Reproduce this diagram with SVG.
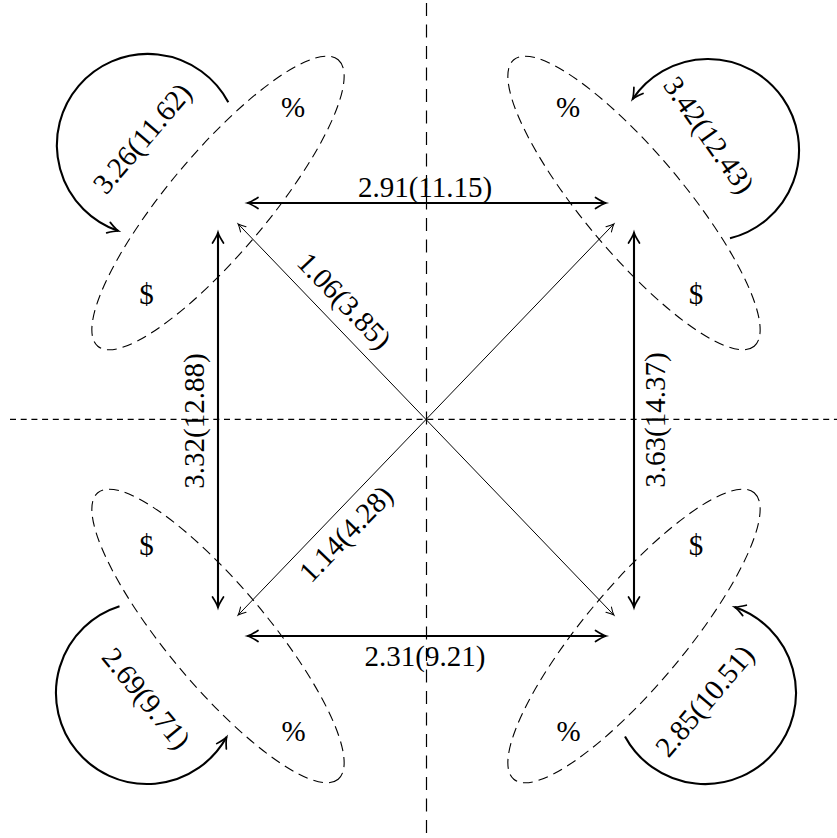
<svg xmlns="http://www.w3.org/2000/svg" width="837" height="838" viewBox="0 0 837 838">
<defs>
<style>
.lbl{font-family:"Liberation Serif","DejaVu Serif",serif;font-size:29px;fill:#000}
.mid{text-anchor:middle}
.ell{fill:none;stroke:#000;stroke-width:1.1;stroke-dasharray:10 6}
.thick{fill:none;stroke:#000;stroke-width:2.1}
.thin{fill:none;stroke:#000;stroke-width:1}
.axis{fill:none;stroke:#000;stroke-width:1.2}
</style>
<marker id="to" markerUnits="userSpaceOnUse" viewBox="-12 -8 14 16" markerWidth="14" markerHeight="16" refX="0" refY="0" orient="auto-start-reverse" overflow="visible">
<path d="M -10.5,-5.5 Q -3.5,-1 0,0 Q -3.5,1 -10.5,5.5" fill="none" stroke="#000" stroke-width="1.7" stroke-linecap="round"/>
</marker>
<marker id="tos" markerUnits="userSpaceOnUse" viewBox="-9 -5 10 10" markerWidth="10" markerHeight="10" refX="0" refY="0" orient="auto-start-reverse" overflow="visible">
<path d="M -7.5,-3.8 Q -2.5,-0.7 0,0 Q -2.5,0.7 -7.5,3.8" fill="none" stroke="#000" stroke-width="1" stroke-linecap="round"/>
</marker>
</defs>
<rect width="837" height="838" fill="#fff"/>
<g id="axes">
<path class="axis" d="M 426.5,3 V 838" stroke-dasharray="13 8.5"/>
<path class="axis" d="M 10,419.3 H 837" stroke-dasharray="6 4.7"/>
</g>
<g id="node-tl">
<ellipse class="ell" cx="0" cy="0" rx="187" ry="50" transform="translate(218,203) rotate(-50)"/>
<text class="lbl mid" x="293" y="117">%</text>
<text class="lbl mid" x="146.5" y="304">$</text>
</g>
<g id="node-tr">
<ellipse class="ell" cx="0" cy="0" rx="187" ry="50" transform="translate(634,203) rotate(50)"/>
<text class="lbl mid" x="568" y="117">%</text>
<text class="lbl mid" x="696" y="304">$</text>
</g>
<g id="node-bl">
<ellipse class="ell" cx="0" cy="0" rx="187" ry="50" transform="translate(218,636) rotate(50)"/>
<text class="lbl mid" x="146.5" y="555">$</text>
<text class="lbl mid" x="293.5" y="741">%</text>
</g>
<g id="node-br">
<ellipse class="ell" cx="0" cy="0" rx="187" ry="50" transform="translate(634,636) rotate(-50)"/>
<text class="lbl mid" x="696" y="555">$</text>
<text class="lbl mid" x="568.5" y="741">%</text>
</g>
<g id="connectors">
<path class="thick" d="M 247.5,203 H 606" marker-start="url(#to)" marker-end="url(#to)"/>
<path class="thick" d="M 247.5,636 H 606" marker-start="url(#to)" marker-end="url(#to)"/>
<path class="thick" d="M 218,232.5 V 607.5" marker-start="url(#to)" marker-end="url(#to)"/>
<path class="thick" d="M 634,232.5 V 607.5" marker-start="url(#to)" marker-end="url(#to)"/>
<path class="thin" d="M 238.1,223.9 L 613.9,615.1" marker-start="url(#tos)" marker-end="url(#tos)"/>
<path class="thin" d="M 613.9,223.9 L 238.1,615.1" marker-start="url(#tos)" marker-end="url(#tos)"/>
<path class="thick" d="M 228.3,102.3 A 91 91 0 1 0 118.4,231" marker-end="url(#to)"/>
<path class="thick" d="M 730,238.3 A 91 91 0 1 0 632.6,99.1" marker-end="url(#to)"/>
<path class="thick" d="M 119.5,606.3 A 91 91 0 1 0 226.6,737.1" marker-end="url(#to)"/>
<path class="thick" d="M 625,736.4 A 91 91 0 1 0 734.6,607" marker-end="url(#to)"/>
<text class="lbl mid" x="425" y="197">2.91(11.15)</text>
<text class="lbl mid" x="425" y="666">2.31(9.21)</text>
<text class="lbl mid" transform="translate(203.5,421) rotate(-90)">3.32(12.88)</text>
<text class="lbl mid" transform="translate(665,420) rotate(-90)">3.63(14.37)</text>
<text class="lbl mid" transform="translate(343,302) rotate(46.15)" y="8">1.06(3.85)</text>
<text class="lbl mid" transform="translate(347,535) rotate(-46.15)" y="8">1.14(4.28)</text>
<text class="lbl mid" transform="translate(143.5,139.5) rotate(-49.5)" y="8">3.26(11.62)</text>
<text class="lbl mid" transform="translate(707.5,136) rotate(55)" y="8">3.42(12.43)</text>
<text class="lbl mid" transform="translate(145,699.5) rotate(50.7)" y="8">2.69(9.71)</text>
<text class="lbl mid" transform="translate(706,702) rotate(-49.75)" y="8">2.85(10.51)</text>
</g>
</svg>
